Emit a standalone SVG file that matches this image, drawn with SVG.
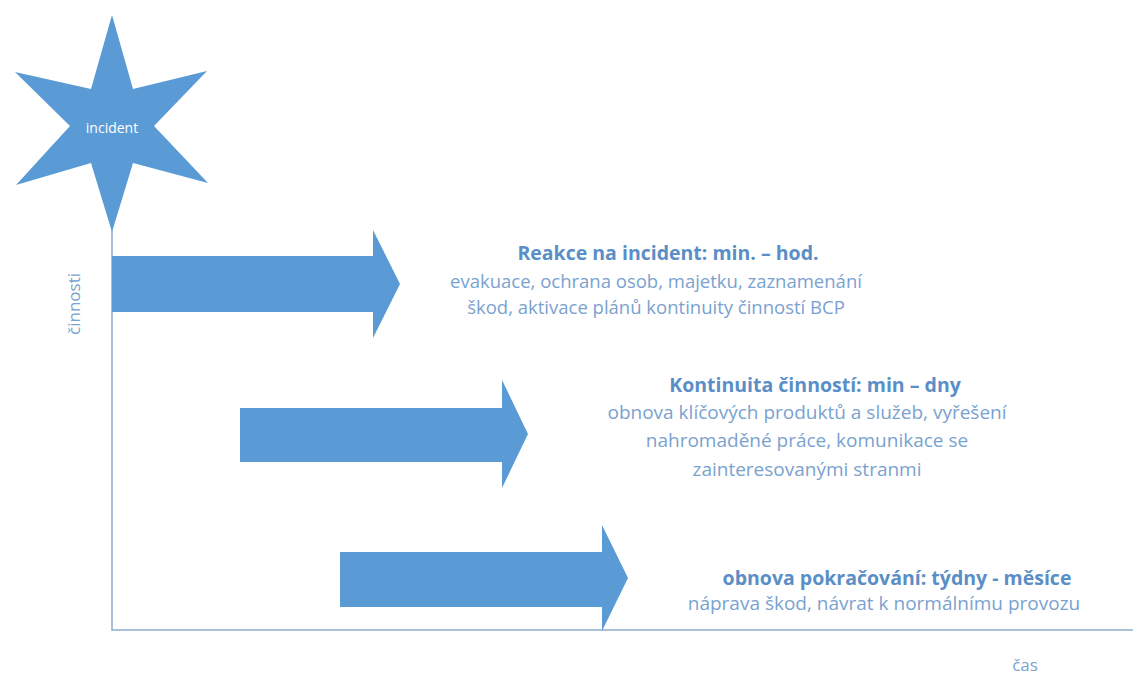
<svg xmlns="http://www.w3.org/2000/svg" width="1133" height="677" viewBox="0 0 1133 677">
<style>
.shape{fill:#5b9bd5}
.axis{stroke:#8eaacb;stroke-width:1.5;fill:none}
.t{font-family:"Open Sans","Liberation Sans",sans-serif;text-anchor:middle}
.h{font-weight:bold;fill:#5a8ec6}
.b{fill:#7aa2cf}
</style>
<rect width="1133" height="677" fill="#ffffff"/>
<g id="connectors">
<path class="axis" d="M112 228 V630 H1133"/>
</g>
<g id="incident">
<polygon class="shape" points="112,15 133,89 207,71 154,126 208,183 133,163 112,232 91,163 16,185 70,126 15,72 91,89"/>
<text class="t" x="112" y="133" font-size="14" fill="#ffffff">incident</text>
</g>
<g id="arrow1">
<polygon class="shape" points="112,256 373,256 373,230 400,284 373,338 373,312 112,312"/>
</g>
<g id="arrow2">
<polygon class="shape" points="240,408 502,408 502,380 528,434 502,488 502,462 240,462"/>
</g>
<g id="arrow3">
<polygon class="shape" points="340,552 602,552 602,525 628,578 602,631 602,607 340,607"/>
</g>
<g id="label1">
<text class="t h" x="668" y="260" font-size="19.5">Reakce na incident: min. – hod.</text>
<text class="t b" x="656" y="288" font-size="18.5">evakuace, ochrana osob, majetku, zaznamenání</text>
<text class="t b" x="656" y="314" font-size="18.5">škod, aktivace plánů kontinuity činností BCP</text>
</g>
<g id="label2">
<text class="t h" x="815" y="392" font-size="19.5">Kontinuita činností: min – dny</text>
<text class="t b" x="807" y="419" font-size="19">obnova klíčových produktů a služeb, vyřešení</text>
<text class="t b" x="807" y="447" font-size="19">nahromaděné práce, komunikace se</text>
<text class="t b" x="807" y="476" font-size="19">zainteresovanými stranmi</text>
</g>
<g id="label3">
<text class="t h" x="897" y="585" font-size="19.5">obnova pokračování: týdny - měsíce</text>
<text class="t b" x="884" y="610" font-size="19">náprava škod, návrat k normálnímu provozu</text>
</g>
<g id="axis-labels">
<text class="t b" x="1025" y="671" font-size="17">čas</text>
<text class="t b" transform="translate(80,304) rotate(-90)" font-size="17">činnosti</text>
</g>
</svg>
